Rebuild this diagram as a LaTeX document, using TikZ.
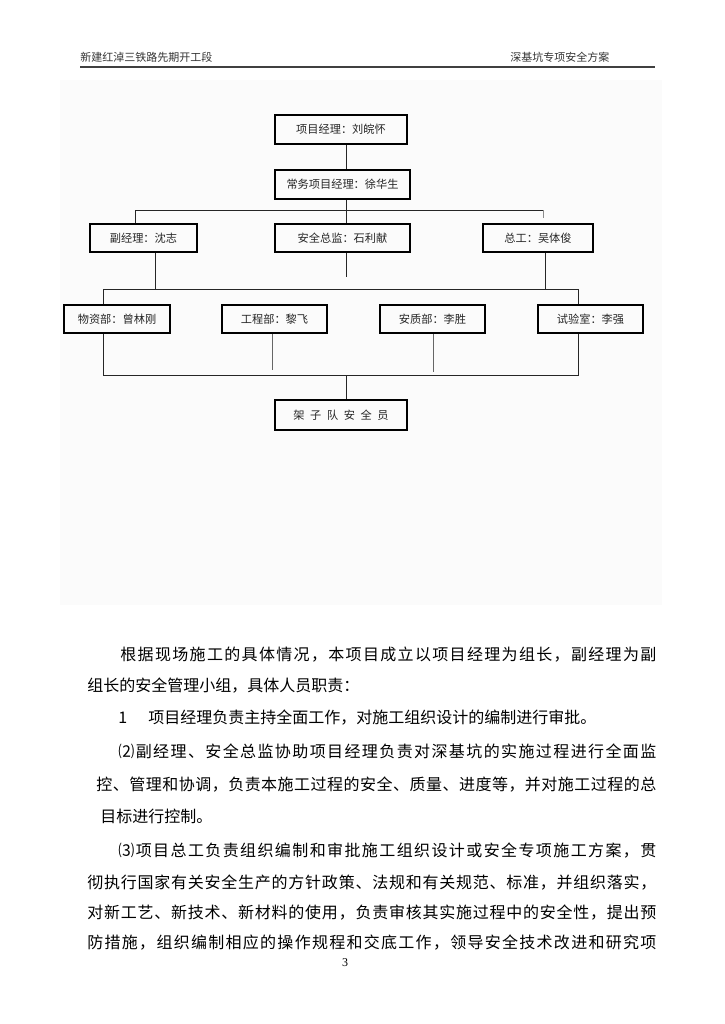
\documentclass[tikz,border=0pt]{standalone}
\usepackage{fontspec}
\setmainfont{Noto Sans CJK SC}
\newfontfamily\numfont{Liberation Serif}
\usetikzlibrary{positioning}

% spread one line of CJK text over a given width
\ExplSyntaxOn
\NewDocumentCommand \fillline { m m }
  { \hbox_to_wd:nn {#1} { \tl_map_inline:nn {#2} { ##1 \hfil } \unskip } }
\ExplSyntaxOff

\tikzset{
  orgbox/.style={draw, line width=1pt, inner sep=0pt, text=black!85,
                 font=\fontsize{5.6}{6}\selectfont},
  link/.style={line width=0.5pt, draw=black!85},
  headtext/.style={anchor=west, inner sep=0pt, text=black!80,
                   font=\fontsize{5.5}{6}\selectfont},
  bodyline/.style={anchor=west, inner sep=0pt, font=\fontsize{8}{9}\selectfont}
}

\begin{document}
\begin{tikzpicture}[x=0.5pt,y=-0.5pt]
  \useasboundingbox (0,0) rectangle (724,1024);
  % faint scan background behind the chart
  \fill[black!1.5] (60,80) rectangle (662,605);

  % page header
  \node[headtext] (hleft) at (80,57) {新建红淖三铁路先期开工段};
  \node[headtext] (hright) at (510,57) {深基坑专项安全方案};
  \coordinate (rulel) at (80,67);
  \coordinate (ruler) at (655,67);
  \draw[line width=0.8pt, black!75] (rulel) -- (ruler);

  % organisation chart
  \node[orgbox, minimum width=66pt, minimum height=14.5pt] (pm) at (341,129.5) {项目经理：刘皖怀};
  \node[orgbox, minimum width=67.5pt, minimum height=14.5pt] (cpm) at (342.5,184.5) {常务项目经理：徐华生};
  \node[orgbox, minimum width=53.5pt, minimum height=14pt] (dep) at (143.5,238) {副经理：沈志};
  \node[orgbox, minimum width=67.5pt, minimum height=14pt] (safe) at (342.5,238) {安全总监：石利献};
  \node[orgbox, minimum width=55pt, minimum height=14pt] (chief) at (538,238) {总工：吴体俊};
  \node[orgbox, minimum width=53pt, minimum height=14pt] (mat) at (117,319) {物资部：曾林刚};
  \node[orgbox, minimum width=52.5pt, minimum height=14pt] (eng) at (274.5,319) {工程部：黎飞};
  \node[orgbox, minimum width=52.5pt, minimum height=14pt] (qual) at (432.5,319) {安质部：李胜};
  \node[orgbox, minimum width=52.5pt, minimum height=14pt] (lab) at (590.5,319) {试验室：李强};
  \node[orgbox, minimum width=66pt, minimum height=15pt] (crew) at (341,415)
    {架\enspace 子\enspace 队\enspace 安\enspace 全\enspace 员};

  % trunk and first bus
  \coordinate (trunk) at (346,210);
  \coordinate (busal) at (135,210);
  \coordinate (busar) at (543,210);
  \draw[link] (pm.south -| trunk) -- (cpm.north -| trunk);
  \draw[link] (cpm.south -| trunk) -- (safe.north -| trunk);
  \draw[link] (dep.north -| busal) -- (busal) -- (busar);
  \draw[link, black!45] (busar) -- ++(0,8);

  % second bus
  \coordinate (dl) at (155,289);
  \coordinate (dm) at (346,277);
  \coordinate (dr) at (545,289);
  \coordinate (bbl) at (103,289);
  \coordinate (bbr) at (578,289);
  \draw[link] (dep.south -| dl) -- (dl);
  \draw[link] (safe.south -| dm) -- (dm);
  \draw[link] (chief.south -| dr) -- (dr);
  \draw[link] (mat.north -| bbl) -- (bbl) -- (bbr) -- (lab.north -| bbr);

  % third bus
  \coordinate (bcl) at (103,375);
  \coordinate (bcr) at (578,375);
  \coordinate (ce) at (272,370);
  \coordinate (cq) at (433,372);
  \coordinate (cc) at (346,375);
  \draw[link] (mat.south -| bcl) -- (bcl) -- (bcr) -- (lab.south -| bcr);
  \draw[link, black!60] (eng.south -| ce) -- (ce);
  \draw[link, black!60] (qual.south -| cq) -- (cq);
  \draw[link] (cc) -- (crew.north -| cc);

  % body text
  \node[bodyline] (p1) at (120,655) {\fillline{268pt}{根据现场施工的具体情况，本项目成立以项目经理为组长，副经理为副}};
  \node[bodyline] (p2) at (87,686) {组长的安全管理小组，具体人员职责：};
  \node[bodyline] (p3) at (118,718) {1\hspace{10.5pt}项目经理负责主持全面工作，对施工组织设计的编制进行审批。};
  \node[bodyline] (p4) at (118,751) {\fillline{269pt}{⑵副经理、安全总监协助项目经理负责对深基坑的实施过程进行全面监}};
  \node[bodyline] (p5) at (96,785) {\fillline{280pt}{控、管理和协调，负责本施工过程的安全、质量、进度等，并对施工过程的总}};
  \node[bodyline] (p6) at (100,816) {目标进行控制。};
  \node[bodyline] (p7) at (118,851) {\fillline{269pt}{⑶项目总工负责组织编制和审批施工组织设计或安全专项施工方案，贯}};
  \node[bodyline] (p8) at (87,883) {\fillline{284.5pt}{彻执行国家有关安全生产的方针政策、法规和有关规范、标准，并组织落实，}};
  \node[bodyline] (p9) at (87,913) {\fillline{284.5pt}{对新工艺、新技术、新材料的使用，负责审核其实施过程中的安全性，提出预}};
  \node[bodyline] (p10) at (87,943) {\fillline{284.5pt}{防措施，组织编制相应的操作规程和交底工作，领导安全技术改进和研究项}};
  \node[inner sep=0pt, font=\numfont\fontsize{6}{7}\selectfont] (pageno) at (345,963) {3};
\end{tikzpicture}
\end{document}
